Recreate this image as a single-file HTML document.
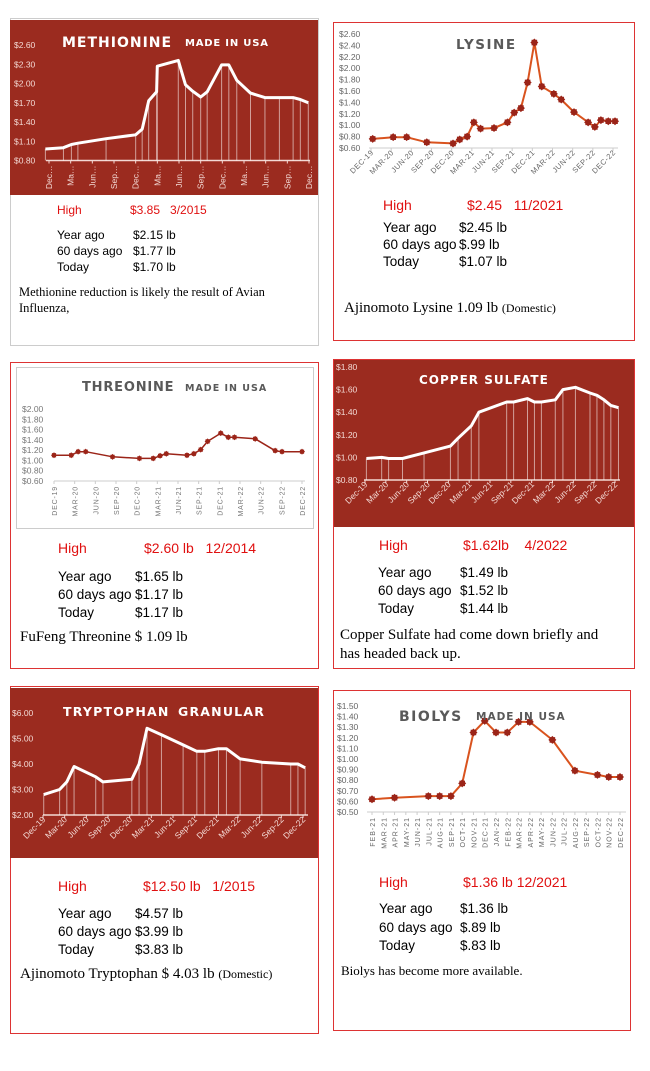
<!DOCTYPE html>
<html><head><meta charset="utf-8">
<style>
body{margin:0;width:650px;height:1071px;background:#fff;position:relative;overflow:hidden;font-family:"Liberation Sans",sans-serif}
.panel{position:absolute;border:1px solid #d33;box-sizing:border-box}
.t{position:absolute;white-space:nowrap;font-family:"Liberation Sans",sans-serif;color:#000}
.r{color:#e01010}
.s{font-family:"Liberation Serif",serif}
svg{position:absolute;left:0;top:0}
</style></head><body>
<div class="panel" style="left:10px;top:18px;width:309px;height:328px;border-color:#ccc"></div>
<div class="panel" style="left:333px;top:22px;width:302px;height:319px"></div>
<div class="panel" style="left:10px;top:362px;width:309px;height:307px"></div>
<div class="panel" style="left:16px;top:367px;width:298px;height:162px;border-color:#ccc"></div>
<div class="panel" style="left:333px;top:359px;width:302px;height:310px"></div>
<div class="panel" style="left:10px;top:686px;width:309px;height:348px"></div>
<div class="panel" style="left:333px;top:690px;width:298px;height:341px"></div>

<svg id="chart" width="650" height="1071"></svg>

<div class="t r" style="left:57px;top:203px;font-size:12px">High</div>
<div class="t r" style="left:130px;top:203px;font-size:12px">$3.85&nbsp;&nbsp; 3/2015</div>
<div class="t" style="left:57px;top:227px;font-size:12px;line-height:16px">Year ago<br>60 days ago<br>Today</div>
<div class="t" style="left:133px;top:227px;font-size:12px;line-height:16px">$2.15 lb<br>$1.77 lb<br>$1.70 lb</div>
<div class="t s" style="left:19px;top:284px;font-size:12.5px;line-height:16px">Methionine reduction is likely the result of Avian<br>Influenza,</div>

<div class="t r" style="left:383px;top:197px;font-size:14px">High</div>
<div class="t r" style="left:467px;top:197px;font-size:14px">$2.45&nbsp;&nbsp; 11/2021</div>
<div class="t" style="left:383px;top:219px;font-size:13.5px;line-height:17px">Year ago<br>60 days ago<br>Today</div>
<div class="t" style="left:459px;top:219px;font-size:13.5px;line-height:17px">$2.45 lb<br>$.99 lb<br>$1.07 lb</div>
<div class="t s" style="left:344px;top:300px;font-size:15px">Ajinomoto Lysine 1.09 lb <span style="font-size:12px">(Domestic)</span></div>

<div class="t r" style="left:58px;top:540px;font-size:14px">High</div>
<div class="t r" style="left:144px;top:540px;font-size:14px">$2.60 lb&nbsp;&nbsp; 12/2014</div>
<div class="t" style="left:58px;top:568px;font-size:13.5px;line-height:18px">Year ago<br>60 days ago<br>Today</div>
<div class="t" style="left:135px;top:568px;font-size:13.5px;line-height:18px">$1.65 lb<br>$1.17 lb<br>$1.17 lb</div>
<div class="t s" style="left:20px;top:629px;font-size:15px">FuFeng Threonine $ 1.09 lb</div>

<div class="t r" style="left:379px;top:537px;font-size:14px">High</div>
<div class="t r" style="left:463px;top:537px;font-size:14px">$1.62lb&nbsp;&nbsp;&nbsp; 4/2022</div>
<div class="t" style="left:378px;top:564px;font-size:13.5px;line-height:18px">Year ago<br>60 days ago<br>Today</div>
<div class="t" style="left:460px;top:564px;font-size:13.5px;line-height:18px">$1.49 lb<br>$1.52 lb<br>$1.44 lb</div>
<div class="t s" style="left:340px;top:626px;font-size:15px;line-height:19px">Copper Sulfate had come down briefly and<br>has headed back up.</div>

<div class="t r" style="left:58px;top:878px;font-size:14px">High</div>
<div class="t r" style="left:143px;top:878px;font-size:14px">$12.50 lb&nbsp;&nbsp; 1/2015</div>
<div class="t" style="left:58px;top:905px;font-size:13.5px;line-height:18px">Year ago<br>60 days ago<br>Today</div>
<div class="t" style="left:135px;top:905px;font-size:13.5px;line-height:18px">$4.57 lb<br>$3.99 lb<br>$3.83 lb</div>
<div class="t s" style="left:20px;top:966px;font-size:15px">Ajinomoto Tryptophan $ 4.03 lb <span style="font-size:12px">(Domestic)</span></div>

<div class="t r" style="left:379px;top:874px;font-size:14px">High</div>
<div class="t r" style="left:463px;top:874px;font-size:14px">$1.36 lb 12/2021</div>
<div class="t" style="left:379px;top:900px;font-size:13.5px;line-height:18.5px">Year ago<br>60 days ago<br>Today</div>
<div class="t" style="left:460px;top:900px;font-size:13.5px;line-height:18.5px">$1.36 lb<br>$.89 lb<br>$.83 lb</div>
<div class="t s" style="left:341px;top:963px;font-size:13px">Biolys has become more available.</div>

<script>
const methMonths = [-0.5,2,3.1,4,7.9,12,12.9,13.8,14.9,15,17.9,18.9,19.9,21,21.9,23.9,24.9,26,27.9,29.9,31.9,33.8,34.8,35.9];
const methPrices = [0.98,1.00,1.05,1.07,1.14,1.20,1.29,1.73,1.87,2.27,2.36,1.98,1.88,1.79,1.87,2.29,2.29,2.05,1.85,1.78,1.78,1.78,1.75,1.70];
const methYTicks = ["$0.80","$1.10","$1.40","$1.70","$2.00","$2.30","$2.60"];
const methXTicks = ["Dec…","Ma…","Jun…","Sep…","Dec…","Ma…","Jun…","Sep…","Dec…","Ma…","Jun…","Sep…","Dec…"];

const lysMonths = [0.25,3.3,5.3,8.3,12.2,13.2,14.3,15.3,16.3,18.3,20.3,21.3,22.3,23.3,24.3,25.4,27.2,28.3,30.2,32.3,33.3,34.2,35.3,36.3];
const lysPrices = [0.76,0.79,0.79,0.70,0.68,0.75,0.80,1.05,0.94,0.95,1.05,1.22,1.30,1.75,2.45,1.68,1.55,1.45,1.23,1.05,0.97,1.09,1.07,1.07];
const lysYTicks = ["$0.60","$0.80","$1.00","$1.20","$1.40","$1.60","$1.80","$2.00","$2.20","$2.40","$2.60"];
const quarterLabelsUpper = ["DEC-19","MAR-20","JUN-20","SEP-20","DEC-20","MAR-21","JUN-21","SEP-21","DEC-21","MAR-22","JUN-22","SEP-22","DEC-22"];
const quarterLabels = ["Dec-19","Mar-20","Jun-20","Sep-20","Dec-20","Mar-21","Jun-21","Sep-21","Dec-21","Mar-22","Jun-22","Sep-22","Dec-22"];

const thrMonths = [0,2.5,3.5,4.6,8.5,12.4,14.4,15.4,16.3,19.3,20.3,21.3,22.3,24.2,25.3,26.2,29.2,32.1,33.1,36];
const thrPrices = [1.10,1.10,1.17,1.17,1.07,1.04,1.04,1.09,1.13,1.10,1.13,1.21,1.37,1.53,1.45,1.45,1.42,1.19,1.17,1.17];
const thrYTicks = ["$0.60","$0.80","$1.00","$1.20","$1.40","$1.60","$1.80","$2.00"];

const cuMonths = [0.2,2.4,3.4,5.4,8.5,12.3,13.4,15.3,16.4,20.4,21.4,23.4,24.4,25.4,27.4,28.5,30.3,32.4,33.4,34.4,35.4,36.5];
const cuPrices = [0.99,1.00,0.99,0.99,1.04,1.10,1.17,1.28,1.40,1.49,1.49,1.52,1.49,1.49,1.51,1.60,1.62,1.57,1.55,1.51,1.46,1.44];
const cuYTicks = ["$0.80","$1.00","$1.20","$1.40","$1.60","$1.80"];

const trpMonths = [0.1,2.3,3.3,4.3,7.3,8.3,12.3,13.3,14.4,16.4,19.4,21.3,22.4,24.3,25.4,27.3,30.3,34.3,35.3,36.3];
const trpPrices = [2.80,3.00,3.30,3.90,3.50,3.30,3.40,4.00,5.40,5.15,4.75,4.50,4.50,4.60,4.60,4.20,4.07,4.00,4.00,3.85];
const trpYTicks = ["$2.00","$3.00","$4.00","$5.00","$6.00"];

const bioMonths = [0,2,5,6,7,8,9,10,11,12,13,14,16,18,20,21,22];
const bioPrices = [0.62,0.635,0.65,0.65,0.65,0.77,1.25,1.36,1.25,1.25,1.35,1.35,1.18,0.89,0.85,0.83,0.83];
const bioYTicks = ["$0.50","$0.60","$0.70","$0.80","$0.90","$1.00","$1.10","$1.20","$1.30","$1.40","$1.50"];
const bioXTicks = ["FEB-21","MAR-21","APR-21","MAY-21","JUN-21","JUL-21","AUG-21","SEP-21","OCT-21","NOV-21","DEC-21","JAN-22","FEB-22","MAR-22","APR-22","MAY-22","JUN-22","JUL-22","AUG-22","SEP-22","OCT-22","NOV-22","DEC-22"];

const NS = "http://www.w3.org/2000/svg";
const svg = document.getElementById('chart');
function mk(tag, attrs, parent){
  const e = document.createElementNS(NS, tag);
  for (const k in attrs) e.setAttribute(k, attrs[k]);
  (parent||svg).appendChild(e);
  return e;
}
function txt(parent, x, y, s, attrs){
  const e = mk('text', Object.assign({x:x, y:y}, attrs), parent);
  e.textContent = s;
  return e;
}

function drawChart(c, xs, ys, yTicks, xTicks){
  const g = mk('g', {});
  
  
  if (c.bg){
    const bg = mk('rect', {x:c.bx, y:c.by, width:c.bw, height:c.bh, fill:c.bg}, g);
    
    
  }
  const yMin = parseFloat(yTicks[0].replace('$','')), yMax = parseFloat(yTicks[yTicks.length-1].replace('$',''));
  const X = m => c.x0 + (m - c.m0) / (c.m1 - c.m0) * (c.x1 - c.x0);
  const Y = v => c.yb - (v - yMin) / (yMax - yMin) * (c.yb - c.yt);
  yTicks.forEach((t, i) => {
    const v = parseFloat(t.replace('$',''));
    const l = txt(g, c.ylx, Y(v) + 3, t, {'font-size': c.yfs, fill: c.tc, 'font-family': 'Liberation Sans, sans-serif'});
    
    
  });
  const ax = mk('line', {x1:c.ax0, x2:c.ax1, y1:c.yb, y2:c.yb, stroke:c.axc, 'stroke-width':c.bg?1.5:1}, g);
  
  
  xTicks.forEach((t, i) => {
    const m = c.m0tick + i * c.tickStep;
    const x = X(m);
    mk('line', {x1:x, x2:x, y1:c.yb, y2:c.yb+3, stroke:c.axc, 'stroke-width':1}, g);
    const ly = c.yb + 5;
    const l = txt(g, x + c.xlo, ly, t, {'font-size': c.xfs, fill: c.tc, 'text-anchor':'end', 'letter-spacing': c.ls||0,
      transform:'rotate(' + c.rot + ' ' + (x + c.xlo) + ' ' + ly + ')', 'font-family': 'Liberation Sans, sans-serif'});
    
    
  });
  if (c.drops){
    xs.forEach((m, i) => {
      const dl = mk('line', {x1:X(m), x2:X(m), y1:Y(ys[i]), y2:c.yb, stroke:'rgba(255,255,255,0.55)', 'stroke-width':1}, g);
      
      
    });
  }
  const pts = xs.map((m, i) => X(m).toFixed(1) + ',' + Y(ys[i]).toFixed(1)).join(' ');
  const line = mk('polyline', {points:pts, fill:'none', stroke:c.lc, 'stroke-width':c.lw, 'stroke-linejoin':'round'}, g);
  
  
  if (c.markers){
    xs.forEach((m, i) => {
      const x = X(m), y = Y(ys[i]), r = c.mr;
      const p = mk('path', {d:'M'+(x-r)+','+y+' L'+x+','+(y-r)+' L'+(x+r)+','+y+' L'+x+','+(y+r)+'Z M'+(x-r*0.7)+','+(y-r*0.7)+' h'+(r*1.4)+' v'+(r*1.4)+' h'+(-r*1.4)+'Z', fill:'#9b2418'}, g);
      
      
    });
  }
  c.titles.forEach(tt => {
    const l = txt(g, tt[0], tt[1], tt[2], {'font-size':tt[3], 'font-weight':'bold', fill:c.ttc, 'letter-spacing':tt[4], 'font-family':'DejaVu Sans, Liberation Sans, sans-serif'});
    
    
  });
}

const BROWN = '#9b2b1f';
drawChart({name:'methionine-chart', bg:BROWN, bx:10, by:20, bw:308, bh:175, x0:49, x1:309, m0:0, m1:36, yt:45, yb:160.5,
  ylx:14, yfs:8.5, tc:'#f3d9d4', axc:'#f3d9d4', ax0:46, ax1:310, m0tick:0, tickStep:3, xlo:3, rot:-90, xfs:8.5,
  drops:true, lc:'#fff', lw:3, markers:false, ttc:'#fff',
  titles:[[62,47,'METHIONINE',14,1],[185,46,'MADE IN USA',10,0.8]]}, methMonths, methPrices, methYTicks, methXTicks);

drawChart({name:'lysine-chart', x0:371, x1:613, m0:0, m1:36, yt:34, yb:148,
  ylx:339, yfs:8.5, tc:'#666', axc:'#ccc', ax0:369, ax1:618, m0tick:0, tickStep:3, xlo:3, rot:-45, xfs:7.5, ls:0.5,
  drops:false, lc:'#d9531e', lw:2, markers:true, mr:4, ttc:'#595959',
  titles:[[456,49,'LYSINE',13.5,1.5]]}, lysMonths, lysPrices, lysYTicks, quarterLabelsUpper);

drawChart({name:'threonine-chart', x0:54, x1:302, m0:0, m1:36, yt:409, yb:481,
  ylx:22, yfs:8.5, tc:'#777', axc:'#ccc', ax0:54, ax1:305, m0tick:0, tickStep:3, xlo:3, rot:-90, xfs:7, ls:0.8,
  drops:false, lc:'#9b2418', lw:1.5, markers:true, mr:3, ttc:'#595959',
  titles:[[82,391,'THREONINE',13,0.8],[185,391,'MADE IN USA',9.5,1]]}, thrMonths, thrPrices, thrYTicks, quarterLabelsUpper);

drawChart({name:'copper-sulfate-chart', bg:BROWN, bx:334, by:360, bw:300, bh:167, x0:365, x1:615, m0:0, m1:36, yt:367, yb:480,
  ylx:336, yfs:8.5, tc:'#f3d9d4', axc:'#f3d9d4', ax0:364, ax1:620, m0tick:0, tickStep:3, xlo:3, rot:-45, xfs:8.5,
  drops:true, lc:'#fff', lw:3, markers:false, ttc:'#fff',
  titles:[[419,384,'COPPER SULFATE',12,1]]}, cuMonths, cuPrices, cuYTicks, quarterLabels);

drawChart({name:'tryptophan-chart', bg:BROWN, bx:10, by:688, bw:308, bh:170, x0:43, x1:303, m0:0, m1:36, yt:713, yb:815,
  ylx:12, yfs:8.5, tc:'#f3d9d4', axc:'#f3d9d4', ax0:43, ax1:308, m0tick:0, tickStep:3, xlo:3, rot:-45, xfs:8.5,
  drops:true, lc:'#fff', lw:3, markers:false, ttc:'#fff',
  titles:[[63,716,'TRYPTOPHAN',12.5,1.2],[178,716,'GRANULAR',12.5,1.2]]}, trpMonths, trpPrices, trpYTicks, quarterLabels);

drawChart({name:'biolys-chart', x0:372, x1:620, m0:0, m1:22, yt:706, yb:812,
  ylx:337, yfs:8.5, tc:'#666', axc:'#ccc', ax0:367, ax1:626, m0tick:0, tickStep:1, xlo:3, rot:-90, xfs:7, ls:1,
  drops:false, lc:'#d9531e', lw:2, markers:true, mr:4, ttc:'#595959',
  titles:[[399,721,'BIOLYS',14,1.5],[476,720,'MADE IN USA',10.5,1]]}, bioMonths, bioPrices, bioYTicks, bioXTicks);
</script>
</body></html>
